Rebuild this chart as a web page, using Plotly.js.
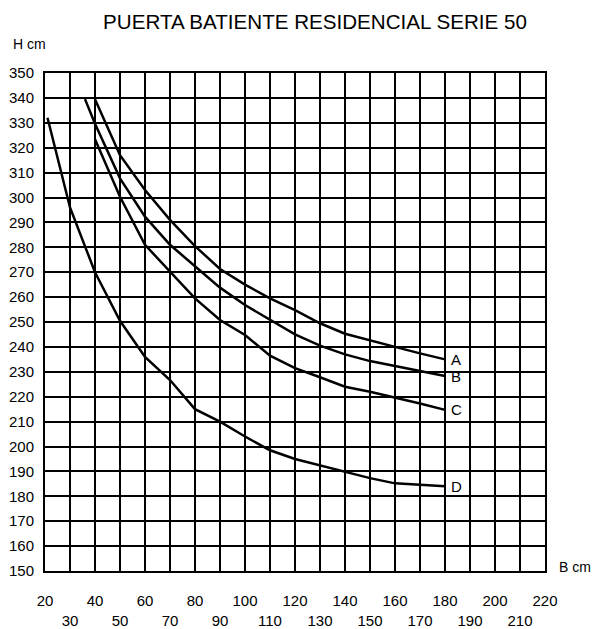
<!DOCTYPE html>
<html>
<head>
<meta charset="utf-8">
<script src="https://cdn.plot.ly/plotly-3.0.1.min.js"></script>
<style>html,body{margin:0;padding:0;background:#fff;}#chart{width:596px;height:629px;}</style>
</head>
<body>
<div id="chart"></div>
<script>
// Curve data (B cm -> H cm)
const curveNames = ["A", "B", "C", "D"];
const xA = [40, 50, 60, 70, 80, 90, 100, 110, 120, 130, 140, 150, 160, 170, 180];
const yA = [339.5, 317, 303, 291, 280.5, 271.3, 265, 259.5, 254.8, 249.5, 245.3, 242.5, 240, 237.4, 235];
const xB = [36, 40, 50, 60, 70, 80, 90, 100, 110, 120, 130, 140, 150, 160, 170, 180];
const yB = [339.5, 329.6, 307.7, 292.3, 281, 272.3, 263.8, 256.8, 250.8, 245, 240.5, 237, 234.3, 232.3, 230.3, 228.3];
const xC = [40, 50, 60, 70, 80, 90, 100, 110, 120, 130, 140, 150, 160, 170, 180];
const yC = [323.4, 300.3, 281, 270.2, 259.5, 250.8, 244.8, 236.5, 231.5, 227.8, 224, 222, 219.8, 217.3, 214.7];
const xD = [21, 30, 40, 50, 60, 70, 80, 90, 100, 110, 120, 130, 140, 150, 160, 180];
const yD = [332, 296, 270, 250.5, 236, 226.7, 215, 210, 204, 198.5, 195, 192.5, 190, 187.3, 185.2, 184];

const xTickVals = [20, 30, 40, 50, 60, 70, 80, 90, 100, 110, 120, 130, 140, 150, 160, 170, 180, 190, 200, 210, 220];
const yTickVals = [150, 160, 170, 180, 190, 200, 210, 220, 230, 240, 250, 260, 270, 280, 290, 300, 310, 320, 330, 340, 350];
const titleText = "PUERTA BATIENTE RESIDENCIAL SERIE 50";
const xLabel = "B cm";
const yLabel = "H cm";

const xs = [xA, xB, xC, xD];
const ys = [yA, yB, yC, yD];

const traces = xs.map((x, i) => ({
  x: x, y: ys[i], type: "scatter", mode: "lines", name: curveNames[i],
  line: {color: "#000", width: 2.5}, hoverinfo: "skip", showlegend: false
}));

// staggered x tick labels: odd decades pushed to a second line
const xTickText = xTickVals.map(v => ((v / 10) % 2 === 0) ? String(v) : "<br>" + v);

const font = {family: "Liberation Sans, Arial, sans-serif", color: "#000"};

const L = 45, R = 545, T = 73, Bt = 571, W = 596, H = 629;

const annotations = xs.map((x, i) => ({
  x: x[x.length - 1], y: ys[i][ys[i].length - 1], xref: "x", yref: "y",
  text: curveNames[i], showarrow: false, xanchor: "left", yanchor: "middle",
  xshift: 4, font: Object.assign({size: 15}, font)
}));
annotations.push({x: (575 - L) / (R - L), y: (Bt - 567) / (Bt - T), xref: "paper", yref: "paper",
  text: xLabel, showarrow: false, xanchor: "center", yanchor: "middle",
  font: Object.assign({size: 14}, font)});
annotations.push({x: (29 - L) / (R - L), y: (Bt - 44) / (Bt - T), xref: "paper", yref: "paper",
  text: yLabel, showarrow: false, xanchor: "center", yanchor: "middle",
  font: Object.assign({size: 14}, font)});

const layout = {
  width: W, height: H,
  margin: {l: L, r: W - R, t: T, b: H - Bt, pad: 0},
  paper_bgcolor: "#fff", plot_bgcolor: "#fff",
  font: Object.assign({size: 14}, font),
  title: {text: titleText, x: 315 / W, xanchor: "center", y: 1 - 22 / H, yanchor: "middle",
    font: Object.assign({size: 20.6}, font)},
  xaxis: {
    range: [20, 220], tickmode: "array", tickvals: xTickVals, ticktext: xTickText, tickangle: 0,
    showgrid: true, gridcolor: "#000", gridwidth: 2,
    showline: true, linecolor: "#000", linewidth: 2, mirror: true,
    ticks: "outside", ticklen: 15, tickcolor: "rgba(0,0,0,0)",
    zeroline: false, tickfont: Object.assign({size: 15}, font), fixedrange: true
  },
  yaxis: {
    range: [150, 350], tickmode: "array", tickvals: yTickVals, tickangle: 0,
    showgrid: true, gridcolor: "#000", gridwidth: 2,
    showline: true, linecolor: "#000", linewidth: 2, mirror: true,
    ticks: "outside", ticklen: 6, tickcolor: "rgba(0,0,0,0)",
    zeroline: false, tickfont: Object.assign({size: 15}, font), fixedrange: true
  },
  annotations: annotations
};

Plotly.newPlot("chart", traces, layout, {displayModeBar: false, staticPlot: true});
</script>
</body>
</html>
